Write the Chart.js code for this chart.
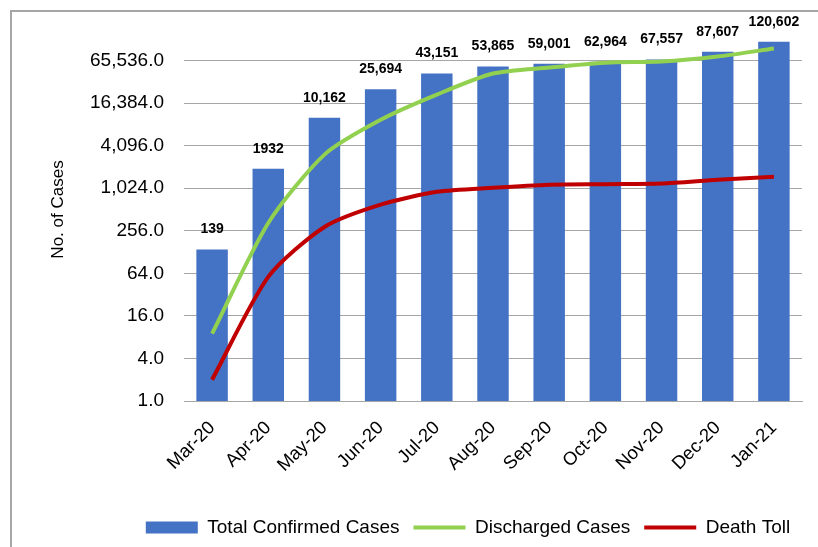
<!DOCTYPE html>
<html>
<head>
<meta charset="utf-8">
<script src="https://cdn.jsdelivr.net/npm/chart.js@4"></script>
<style>
  html, body { margin: 0; padding: 0; background: #fff; }
  #wrap { position: relative; width: 818px; height: 547px; overflow: hidden; }
  #frame { position: absolute; left: 10px; top: 10px; width: 900px; height: 600px;
           border-left: 2px solid #A6A6A6; border-top: 2px solid #A6A6A6; }
  canvas { position: absolute; left: 0; top: 0; }
</style>
</head>
<body>
<div id="wrap">
  <div id="frame"></div>
  <canvas id="casesChart" width="818" height="547"></canvas>
</div>
<script>
// chart data
const months = ['Mar-20', 'Apr-20', 'May-20', 'Jun-20', 'Jul-20', 'Aug-20', 'Sep-20', 'Oct-20', 'Nov-20', 'Dec-20', 'Jan-21'];
const totalConfirmed = [139, 1932, 10162, 25694, 43151, 53865, 59001, 62964, 67557, 87607, 120602];
const barLabels = ['139', '1932', '10,162', '25,694', '43,151', '53,865', '59,001', '62,964', '67,557', '87,607', '120,602'];
const discharged = [9, 330, 3060, 9500, 21600, 42900, 52200, 61200, 63400, 74600, 96900];
const deathToll = [2, 57, 290, 600, 910, 1040, 1150, 1170, 1190, 1350, 1490];
const yTicks = [1, 4, 16, 64, 256, 1024, 4096, 16384, 65536];

Chart.defaults.font.family = "'Liberation Sans', Arial, sans-serif";
Chart.defaults.color = '#000';

// values above the bars
const barValueLabels = {
    id: 'barValueLabels',
    afterDatasetsDraw(chart) {
        const meta = chart.getDatasetMeta(0);
        const ctx = chart.ctx;
        ctx.save();
        ctx.font = 'bold 14px "Liberation Sans", Arial, sans-serif';
        ctx.fillStyle = '#000';
        ctx.textAlign = 'center';
        ctx.textBaseline = 'middle';
        meta.data.forEach((bar, i) => {
            ctx.fillText(barLabels[i], bar.x, bar.y - 20);
        });
        ctx.restore();
    }
};

// legend sits a bit right of the canvas centre
const shiftLegend = {
    id: 'shiftLegend',
    afterLayout(chart) {
        chart.legend.left += 43;
        chart.legend.right += 43;
    }
};

new Chart(document.getElementById('casesChart'), {
    type: 'bar',
    data: {
        labels: months,
        datasets: [
            {
                label: 'Total Confirmed Cases',
                data: totalConfirmed,
                backgroundColor: '#4472C4',
                barPercentage: 0.56,
                categoryPercentage: 1,
                order: 2
            },
            {
                label: 'Discharged Cases',
                type: 'line',
                data: discharged,
                borderColor: '#92D050',
                backgroundColor: '#92D050',
                borderWidth: 4,
                pointRadius: 0,
                tension: 0.25,
                order: 1
            },
            {
                label: 'Death Toll',
                type: 'line',
                data: deathToll,
                borderColor: '#C00000',
                backgroundColor: '#C00000',
                borderWidth: 4,
                pointRadius: 0,
                tension: 0.25,
                order: 0
            }
        ]
    },
    options: {
        responsive: false,
        animation: false,
        layout: { padding: { left: 48, right: 16, top: 18, bottom: 0 } },
        plugins: {
            tooltip: { enabled: false },
            legend: {
                position: 'bottom',
                labels: {
                    usePointStyle: true,
                    pointStyleWidth: 52,
                    boxHeight: 12,
                    padding: 14,
                    font: { size: 19 },
                    sort: (a, b) => a.datasetIndex - b.datasetIndex,
                    generateLabels(chart) {
                        const items = Chart.defaults.plugins.legend.labels.generateLabels(chart);
                        items.forEach(it => {
                            if (it.datasetIndex === 0) {
                                it.pointStyle = 'rect';
                                it.lineWidth = 0;
                            } else {
                                it.pointStyle = 'line';
                                it.lineWidth = 4;
                            }
                        });
                        return items;
                    }
                }
            }
        },
        scales: {
            x: {
                grid: { display: false },
                border: { color: '#A6A6A6', width: 1 },
                ticks: { minRotation: 45, maxRotation: 45, font: { size: 18.5 }, padding: 8 },
                afterFit(axis) { axis.height = 103; }
            },
            y: {
                type: 'logarithmic',
                min: 1,
                max: 262144,
                border: { display: false },
                grid: { color: '#A6A6A6', lineWidth: 1, drawTicks: false },
                ticks: {
                    font: { size: 19 },
                    padding: 20,
                    callback: v => Number(v).toLocaleString('en-US', { minimumFractionDigits: 1, maximumFractionDigits: 1 })
                },
                afterBuildTicks(axis) {
                    axis.ticks = yTicks.map(v => ({ value: v }));
                },
                title: { display: true, text: 'No. of Cases', font: { size: 17 }, padding: { top: 0, bottom: 0 } },
                afterFit(axis) {
                    axis.width = 136;
                    axis.paddingTop = 0;
                    axis.paddingBottom = 0;
                }
            }
        }
    },
    plugins: [barValueLabels, shiftLegend]
});
</script>
</body>
</html>
